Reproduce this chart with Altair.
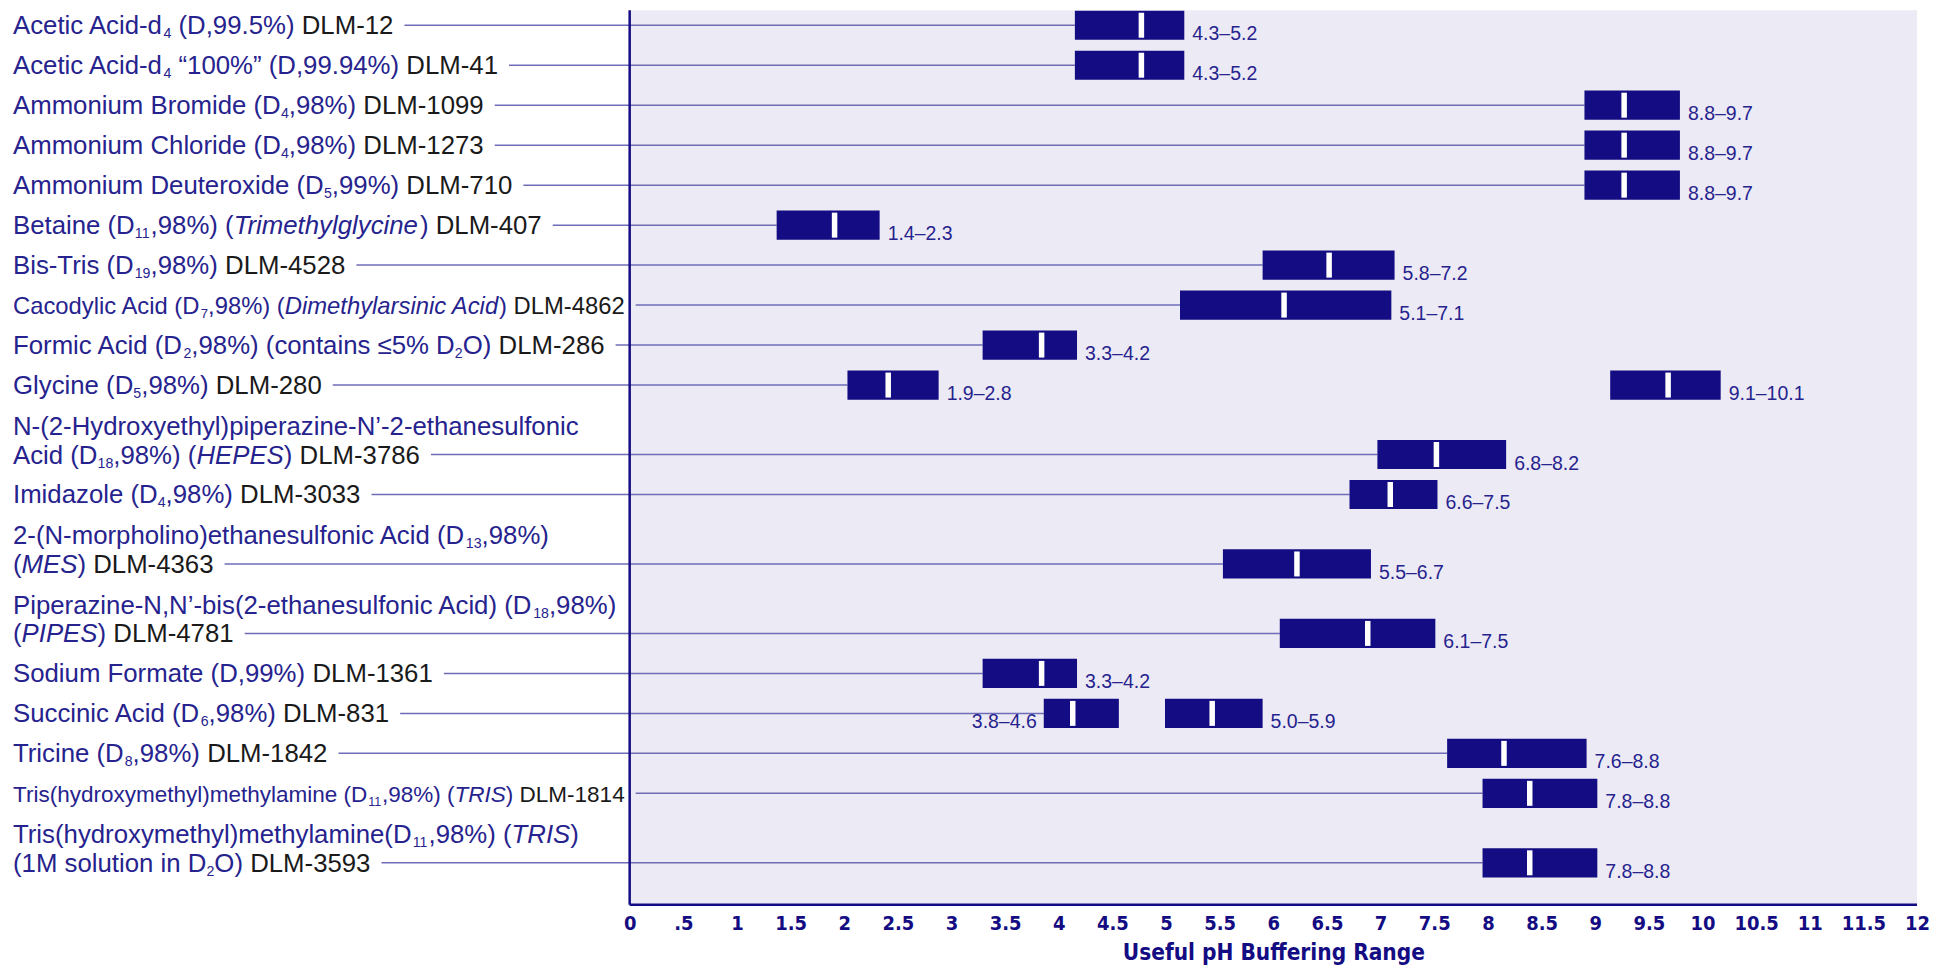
import altair as alt
import pandas as pd

# ---------------- data ----------------
names = [
    "Acetic Acid-d_4_ (D,99.5%)",
    "Acetic Acid-d_4_ “100%” (D,99.94%)",
    "Ammonium Bromide (D_4_,98%)",
    "Ammonium Chloride (D_4_,98%)",
    "Ammonium Deuteroxide (D_5_,99%)",
    "Betaine (D_11_,98%) (*Trimethylglycine*)",
    "Bis-Tris (D_19_,98%)",
    "Cacodylic Acid (D_7_,98%) (*Dimethylarsinic Acid*)",
    "Formic Acid (D_2_,98%) (contains ≤5% D_2_O)",
    "Glycine (D_5_,98%)",
    "N-(2-Hydroxyethyl)piperazine-N’-2-ethanesulfonic|Acid (D_18_,98%) (*HEPES*)",
    "Imidazole (D_4_,98%)",
    "2-(N-morpholino)ethanesulfonic Acid (D_13_,98%)|(*MES*)",
    "Piperazine-N,N’-bis(2-ethanesulfonic Acid) (D_18_,98%)|(*PIPES*)",
    "Sodium Formate (D,99%)",
    "Succinic Acid (D_6_,98%)",
    "Tricine (D_8_,98%)",
    "Tris(hydroxymethyl)methylamine (D_11_,98%) (*TRIS*)",
    "Tris(hydroxymethyl)methylamine(D_11_,98%) (*TRIS*)|(1M solution in D_2_O)",
]
codes = ["DLM-12", "DLM-41", "DLM-1099", "DLM-1273", "DLM-710", "DLM-407",
         "DLM-4528", "DLM-4862", "DLM-286", "DLM-280", "DLM-3786", "DLM-3033",
         "DLM-4363", "DLM-4781", "DLM-1361", "DLM-831", "DLM-1842", "DLM-1814",
         "DLM-3593"]
bar_low = [4.15, 4.15, 8.90, 8.90, 8.90, 1.37, 5.90, 5.13, 3.29, 2.03,
           6.97, 6.71, 5.53, 6.06, 3.29, 3.86, 7.62, 7.95, 7.95]
bar_high = [5.17, 5.17, 9.79, 9.79, 9.79, 2.33, 7.13, 7.10, 4.17, 2.88,
            8.17, 7.53, 6.91, 7.51, 4.17, 4.56, 8.92, 9.02, 9.02]
pka = [4.77, 4.77, 9.27, 9.27, 9.27, 1.91, 6.52, 6.10, 3.84, 2.41,
       7.52, 7.09, 6.22, 6.88, 3.84, 4.13, 8.15, 8.39, 8.39]
range_text = ["4.3–5.2", "4.3–5.2", "8.8–9.7", "8.8–9.7", "8.8–9.7", "1.4–2.3",
              "5.8–7.2", "5.1–7.1", "3.3–4.2", "1.9–2.8", "6.8–8.2", "6.6–7.5",
              "5.5–6.7", "6.1–7.5", "3.3–4.2", "3.8–4.6", "7.6–8.8", "7.8–8.8",
              "7.8–8.8"]
range_side = ["right"] * 15 + ["left"] + ["right"] * 3
# second buffering range (Glycine, Succinic Acid)
second_row = [9, 15]
second_low = [9.14, 4.99]
second_high = [10.17, 5.90]
second_pka = [9.68, 5.43]
second_text = ["9.1–10.1", "5.0–5.9"]
tick_values = [0, 0.5, 1, 1.5, 2, 2.5, 3, 3.5, 4, 4.5, 5, 5.5, 6, 6.5, 7, 7.5,
               8, 8.5, 9, 9.5, 10, 10.5, 11, 11.5, 12]

# ---------------- styling / layout ----------------
NAVY = "#140C82"
TEXTNAVY = "#26238E"
BLACK = "#1A1A1A"
LAV = "#ECEAF5"
LEADER = "#6F6DB8"
FONT = "Liberation Sans"
COND = "Liberation Sans Narrow, DejaVu Sans Condensed, Arial Narrow, sans-serif"

PLOT_H = 895
X0PX = 622.0                 # pixel of pH 0 inside the plot
PXU = 1288.0 / 12            # pixels per pH unit
XMIN = -X0PX / PXU
PLOT_W = X0PX + 12 * PXU
ROW_PX = 40.0
TOP_PX = 15.0
BASE_FS = 25.8
MAXW = 612.0
LABEL_X = 5.0
SUB = 0.55
LINE_GAP = 28.5 / ROW_PX

W = {' ': 278, '!': 278, '"': 355, '%': 889, '&': 667, "'": 191, '(': 333, ')': 333,
     ',': 278, '-': 333, '.': 278, '/': 278, ':': 278, ';': 278, '<': 584, '=': 584,
     'A': 667, 'B': 667, 'C': 722, 'D': 722, 'E': 667, 'F': 611, 'G': 778, 'H': 722,
     'I': 278, 'J': 500, 'K': 667, 'L': 556, 'M': 833, 'N': 722, 'O': 778, 'P': 667,
     'Q': 778, 'R': 722, 'S': 667, 'T': 611, 'U': 722, 'V': 667, 'W': 944, 'X': 667,
     'Y': 667, 'Z': 611, 'a': 556, 'b': 556, 'c': 500, 'd': 556, 'e': 556, 'f': 278,
     'g': 556, 'h': 556, 'i': 222, 'j': 222, 'k': 500, 'l': 222, 'm': 833, 'n': 556,
     'o': 556, 'p': 556, 'q': 556, 'r': 333, 's': 500, 't': 278, 'u': 556, 'v': 500,
     'w': 722, 'x': 500, 'y': 500, 'z': 500, '“': 333, '”': 333, '’': 222, '≤': 549,
     '–': 556}


def tw(t, size):
    return sum(W.get(c, 556) for c in t) * size / 1000.0


def parse(s):
    segs, buf, ital, sub = [], "", False, False
    for ch in s:
        if ch in "*_":
            if buf:
                segs.append((buf, "s" if sub else ("i" if ital else "n")))
                buf = ""
            if ch == "*":
                ital = not ital
            else:
                sub = not sub
        else:
            buf += ch
    if buf:
        segs.append((buf, "s" if sub else ("i" if ital else "n")))
    return segs


def seg_w(segs, fs):
    return sum(tw(t, fs * (SUB if k == "s" else 1)) for t, k in segs)


def to_ph(px):
    return (px - X0PX) / PXU


# row positions (two-line labels take extra room)
slots = []
s = 0.0
for i, n in enumerate(names):
    nl = n.count("|") + 1
    if i > 0:
        s += 1 + 0.7375 * (nl - 1)
    slots.append(s)

text_rows, leader_rows = [], []
for i, n in enumerate(names):
    lines = [parse(l) for l in n.split("|")]
    lines[-1] = lines[-1] + [(" ", "n"), (codes[i], "k")]
    nl = len(lines)
    maxw = max(seg_w(l, BASE_FS) for l in lines)
    fs = BASE_FS * min(1.0, MAXW / maxw)
    end_px = LABEL_X
    for j, segs in enumerate(lines):
        y = slots[i] - (nl - 1 - j) * LINE_GAP
        xpx = LABEL_X
        for t, k in segs:
            size = fs * (SUB if k == "s" else 1)
            lead = len(t) - len(t.lstrip())
            if t.strip():
                text_rows.append({
                    "x": to_ph(xpx + tw(t[:lead], size)), "y": y,
                    "t": t.strip(), "kind": k, "fs": size,
                    "col": BLACK if k == "k" else TEXTNAVY})
            xpx += tw(t, size)
        end_px = xpx
    leader_rows.append({"x": to_ph(end_px + 11), "x2": bar_low[i], "y": slots[i]})

texts = pd.DataFrame(text_rows)
leaders = pd.DataFrame(leader_rows)

bar_rows = []
for i in range(len(names)):
    bar_rows.append({"y": slots[i], "low": bar_low[i], "high": bar_high[i],
                     "pka": pka[i], "rng": range_text[i], "side": range_side[i]})
for r, lo, hi, pk, tx in zip(second_row, second_low, second_high, second_pka, second_text):
    bar_rows.append({"y": slots[r], "low": lo, "high": hi, "pka": pk,
                     "rng": tx, "side": "right"})
bars = pd.DataFrame(bar_rows)
bars["ylo"] = bars["y"] - 14.6 / ROW_PX
bars["yhi"] = bars["y"] + 14.6 / ROW_PX
bars["tlo"] = bars["y"] - 12.5 / ROW_PX
bars["thi"] = bars["y"] + 12.5 / ROW_PX

frame = pd.DataFrame({"a": [0.0], "b": [12.0]})

xs = alt.Scale(domain=[XMIN, 12], nice=False, zero=False)
ys = alt.Scale(domain=[-TOP_PX / ROW_PX, (PLOT_H - TOP_PX) / ROW_PX],
               nice=False, zero=False, reverse=True)

XAX = alt.Axis(values=tick_values,
               labelExpr="datum.value == 0.5 ? '.5' : '' + datum.value",
               domain=False, ticks=False, grid=False, labelPadding=9,
               labelFont=COND, labelFontWeight="bold", labelFontSize=20,
               labelColor=NAVY, labelFlush=False, labelOverlap=False,
               title="Useful pH Buffering Range", titleFont=COND,
               titleFontSize=22.5, titleFontWeight="bold", titleColor=NAVY,
               titleX=X0PX + 6 * PXU, titleY=55, titleAlign="center",
               titleBaseline="alphabetic")
YAX = None


def X(field):
    return alt.X(field, scale=xs, axis=XAX)


def Y(field):
    return alt.Y(field, scale=ys, axis=YAX)


bg = alt.Chart(frame).mark_rect(color=LAV).encode(
    x=X("a:Q"), x2="b:Q", y=alt.value(0), y2=alt.value(PLOT_H))

lead = alt.Chart(leaders).mark_rule(color=LEADER, strokeWidth=1.5).encode(
    x=X("x:Q"), x2="x2:Q", y=Y("y:Q"))

barl = alt.Chart(bars).mark_rect(color=NAVY).encode(
    x=X("low:Q"), x2="high:Q", y=Y("ylo:Q"), y2="yhi:Q")

tick = alt.Chart(bars).mark_rule(color="white", strokeWidth=5.5, strokeCap="butt").encode(
    x=X("pka:Q"), y=Y("tlo:Q"), y2="thi:Q")

rng_r = alt.Chart(bars).transform_filter("datum.side == 'right'").mark_text(
    align="left", baseline="alphabetic", dx=8, dy=15, font=FONT,
    fontSize=19.5, color=TEXTNAVY).encode(
    x=X("high:Q"), y=Y("y:Q"), text="rng:N")

rng_l = alt.Chart(bars).transform_filter("datum.side == 'left'").mark_text(
    align="right", baseline="alphabetic", dx=-7, dy=15, font=FONT,
    fontSize=19.5, color=TEXTNAVY).encode(
    x=X("low:Q"), y=Y("y:Q"), text="rng:N")

left_axis = alt.Chart(frame).mark_rule(color=NAVY, strokeWidth=2.5).encode(
    x=X("a:Q"), y=alt.value(0), y2=alt.value(PLOT_H))
bottom_axis = alt.Chart(frame).mark_rule(color=NAVY, strokeWidth=2.5).encode(
    x=X("a:Q"), x2="b:Q", y=alt.value(PLOT_H))


def text_layer(kinds, style, dy):
    return alt.Chart(texts).transform_filter(
        alt.FieldOneOfPredicate(field="kind", oneOf=kinds)).mark_text(
        align="left", baseline="alphabetic", font=FONT, fontStyle=style, dy=dy).encode(
        x=X("x:Q"), y=Y("y:Q"),
        text="t:N",
        size=alt.Size("fs:Q", scale=None, legend=None),
        color=alt.Color("col:N", scale=None, legend=None))


t_norm = text_layer(["n", "k"], "normal", 9)
t_ital = text_layer(["i"], "italic", 9)
t_sub = text_layer(["s"], "normal", 13)

chart = alt.layer(bg, lead, barl, tick, rng_r, rng_l, left_axis, bottom_axis,
                  t_norm, t_ital, t_sub).properties(
    width=PLOT_W, height=PLOT_H, padding=0, background="white"
).configure_view(stroke=None)

chart.save("out.html", embed_options={"renderer": "svg", "actions": False})
